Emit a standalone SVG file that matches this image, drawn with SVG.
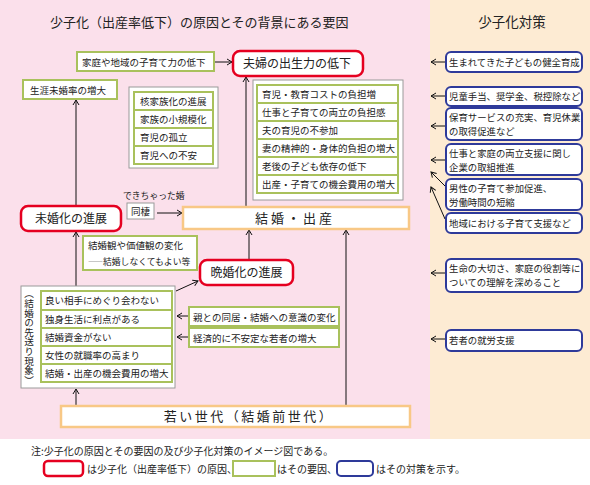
<svg xmlns="http://www.w3.org/2000/svg" width="590" height="485" viewBox="0 0 590 485">
<defs>
<style>
text{font-family:"Noto Sans CJK JP","Noto Sans",sans-serif;fill:#222;}
.t{font-size:9.5px;}
.ts{font-size:9.4px;}
.n{font-size:10px;}
.v{font-size:9.6px;writing-mode:vertical-rl;text-orientation:upright;}
.big{font-size:12px;}
.grn{fill:#fff;stroke:#a9c15c;stroke-width:2;}
.gry{fill:#fff;stroke:#9a9a9a;stroke-width:1;}
.red{fill:#fff;stroke:#e50020;stroke-width:2.5;}
.org{fill:#fff;stroke:#f8c886;stroke-width:2.5;}
.blu{fill:#fff;stroke:#2e3a9a;stroke-width:2;}
.ln{stroke:#111;stroke-width:1;fill:none;}
</style>
<marker id="ah" markerWidth="7" markerHeight="8" refX="6" refY="4" orient="auto" markerUnits="userSpaceOnUse">
<path d="M1,1 L6,4 L1,7" fill="none" stroke="#111" stroke-width="1"/>
</marker>
</defs>
<rect x="0" y="0" width="430" height="439" fill="#fbe0eb"/>
<rect x="430" y="0" width="160" height="439" fill="#fdebd3"/>
<rect x="0" y="439" width="590" height="46" fill="#fff"/>

<text x="50" y="27" font-size="13">少子化（出産率低下）の原因とその背景にある要因</text>
<text x="512" y="27" font-size="13.5" text-anchor="middle">少子化対策</text>

<g id="connectors">
<line class="ln" x1="214" y1="62" x2="232" y2="62" marker-end="url(#ah)"/>
<line class="ln" x1="246" y1="207" x2="246" y2="77" marker-end="url(#ah)"/>
<line class="ln" x1="76" y1="206" x2="76" y2="100" marker-end="url(#ah)"/>
<line class="ln" x1="157" y1="213" x2="182" y2="213" marker-end="url(#ah)"/>
<line class="ln" x1="249" y1="260" x2="249" y2="230" marker-end="url(#ah)"/>
<line class="ln" x1="346" y1="405" x2="346" y2="230" marker-end="url(#ah)"/>
<line class="ln" x1="76" y1="286" x2="76" y2="232" marker-end="url(#ah)"/>
<line class="ln" x1="76" y1="405" x2="76" y2="389" marker-end="url(#ah)"/>
<line class="ln" x1="176" y1="291" x2="198" y2="281" marker-end="url(#ah)"/>
<line class="ln" x1="189" y1="316" x2="177" y2="316" marker-end="url(#ah)"/>
<line class="ln" x1="189" y1="337" x2="177" y2="337" marker-end="url(#ah)"/>
<line class="ln" x1="446" y1="62" x2="431" y2="62" marker-end="url(#ah)"/>
<line class="ln" x1="446" y1="96" x2="431" y2="96" marker-end="url(#ah)"/>
<line class="ln" x1="446" y1="126" x2="431" y2="126" marker-end="url(#ah)"/>
<line class="ln" x1="446" y1="160" x2="431" y2="160" marker-end="url(#ah)"/>
<line class="ln" x1="445" y1="186" x2="431" y2="172" marker-end="url(#ah)"/>
<line class="ln" x1="445" y1="219" x2="431" y2="187" marker-end="url(#ah)"/>
<line class="ln" x1="446" y1="273" x2="431" y2="273" marker-end="url(#ah)"/>
<line class="ln" x1="446" y1="339" x2="431" y2="339" marker-end="url(#ah)"/>
</g>

<g id="n-katei">
<rect class="grn" x="77" y="52" width="137" height="19"/>
<text class="t" x="82" y="66">家庭や地域の子育て力の低下</text>
</g>
<g id="n-fufu">
<rect class="red" x="233" y="51" width="130" height="25" rx="7"/>
<text class="big" x="243" y="68">夫婦の出生力の低下</text>
</g>
<g id="n-shogai">
<rect class="grn" x="23" y="80" width="94" height="19"/>
<text class="t" x="30" y="94">生涯未婚率の増大</text>
</g>
<g id="n-kakukazoku">
<rect class="gry" x="129" y="87" width="89" height="81"/>
<rect class="grn" x="134" y="92" width="79" height="18"/>
<rect class="grn" x="134" y="110" width="79" height="18"/>
<rect class="grn" x="134" y="128" width="79" height="18"/>
<rect class="grn" x="134" y="146" width="79" height="18"/>
<text class="t" x="140" y="105">核家族化の進展</text>
<text class="t" x="140" y="123">家族の小規模化</text>
<text class="t" x="140" y="141">育児の孤立</text>
<text class="t" x="140" y="159">育児への不安</text>
</g>
<g id="n-futan">
<rect class="gry" x="253" y="80" width="150" height="120"/>
<rect class="grn" x="257" y="85" width="141" height="18"/>
<rect class="grn" x="257" y="103" width="141" height="18"/>
<rect class="grn" x="257" y="121" width="141" height="18"/>
<rect class="grn" x="257" y="139" width="141" height="18"/>
<rect class="grn" x="257" y="157" width="141" height="18"/>
<rect class="grn" x="257" y="175" width="141" height="18"/>
<text class="t" x="262" y="98">育児・教育コストの負担増</text>
<text class="t" x="262" y="116">仕事と子育ての両立の負担感</text>
<text class="t" x="262" y="134">夫の育児の不参加</text>
<text class="t" x="262" y="152">妻の精神的・身体的負担の増大</text>
<text class="t" x="262" y="170">老後の子ども依存の低下</text>
<text class="t" x="262" y="188">出産・子育ての機会費用の増大</text>
</g>
<g id="n-mikon">
<rect class="red" x="21" y="206" width="100" height="25" rx="7"/>
<text class="big" x="71" y="223" text-anchor="middle">未婚化の進展</text>
</g>
<g id="n-dekichatta">
<text x="123" y="199" font-size="8.8">できちゃった婚</text>
<rect class="gry" x="127" y="203" width="27" height="16"/>
<text class="t" x="131" y="215">同棲</text>
</g>
<g id="n-kekkon">
<rect class="org" x="183" y="207" width="226" height="22"/>
<text x="295" y="223" font-size="13" letter-spacing="3" text-anchor="middle">結婚・出産</text>
</g>
<g id="n-kachikan">
<rect class="grn" x="83" y="236" width="114" height="34"/>
<text class="t" x="88" y="249">結婚観や価値観の変化</text>
<text x="88" y="265" font-size="8.8"><tspan font-size="7.5">――</tspan>結婚しなくてもよい等</text>
</g>
<g id="n-bankon">
<rect class="red" x="200" y="260" width="93" height="25" rx="7"/>
<text class="big" x="246.5" y="277" text-anchor="middle">晩婚化の進展</text>
</g>
<g id="n-sakiokuri">
<rect class="gry" x="21" y="286" width="154" height="102"/>
<text class="v" x="29" y="289">（結婚の先送り現象）</text>
<rect class="grn" x="41" y="291" width="131" height="19"/>
<rect class="grn" x="41" y="310" width="131" height="18"/>
<rect class="grn" x="41" y="328" width="131" height="18"/>
<rect class="grn" x="41" y="346" width="131" height="18"/>
<rect class="grn" x="41" y="364" width="131" height="18"/>
<text class="t" x="45" y="304">良い相手にめぐり会わない</text>
<text class="t" x="45" y="323">独身生活に利点がある</text>
<text class="t" x="45" y="341">結婚資金がない</text>
<text class="t" x="45" y="359">女性の就職率の高まり</text>
<text class="t" x="45" y="377">結婚・出産の機会費用の増大</text>
</g>
<g id="n-oya">
<rect class="grn" x="189" y="307" width="150" height="19"/>
<text class="t" x="193" y="321">親との同居・結婚への意識の変化</text>
</g>
<g id="n-keizai">
<rect class="grn" x="189" y="328" width="150" height="19"/>
<text class="t" x="193" y="342">経済的に不安定な若者の増大</text>
</g>
<g id="n-wakai">
<rect class="org" x="61" y="406" width="349" height="21"/>
<text x="249" y="421" font-size="13" letter-spacing="2.5" text-anchor="middle">若い世代（結婚前世代）</text>
</g>

<g id="m1"><rect class="blu" x="446" y="52" width="136" height="20" rx="5"/><text class="ts" x="449" y="66">生まれてきた子どもの健全育成</text></g>
<g id="m2"><rect class="blu" x="446" y="87" width="136" height="19" rx="5"/><text class="ts" x="449" y="100">児童手当、奨学金、税控除など</text></g>
<g id="m3"><rect class="blu" x="446" y="108" width="136" height="32" rx="5"/><text class="ts" x="449" y="121">保育サービスの充実、育児休業</text><text class="ts" x="449" y="135">の取得促進など</text></g>
<g id="m4"><rect class="blu" x="446" y="144" width="136" height="31" rx="5"/><text class="ts" x="449" y="157">仕事と家庭の両立支援に関し</text><text class="ts" x="449" y="171">企業の取組推進</text></g>
<g id="m5"><rect class="blu" x="446" y="179" width="136" height="31" rx="5"/><text class="ts" x="449" y="192">男性の子育て参加促進、</text><text class="ts" x="449" y="206">労働時間の短縮</text></g>
<g id="m6"><rect class="blu" x="446" y="213" width="136" height="20" rx="5"/><text class="ts" x="449" y="227">地域における子育て支援など</text></g>
<g id="m7"><rect class="blu" x="446" y="259" width="136" height="33" rx="5"/><text class="ts" x="449" y="272">生命の大切さ、家庭の役割等に</text><text class="ts" x="449" y="286">ついての理解を深めること</text></g>
<g id="m8"><rect class="blu" x="446" y="330" width="136" height="21" rx="5"/><text class="ts" x="449" y="344">若者の就労支援</text></g>

<g id="note">
<text class="n" x="31" y="455">注:少子化の原因とその要因の及び少子化対策のイメージ図である。</text>
<rect class="red" x="44" y="461" width="39" height="15" rx="4" stroke-width="2"/>
<text class="n" x="87" y="473">は少子化（出産率低下）の原因、</text>
<rect class="grn" x="233" y="461" width="42" height="15"/>
<text class="n" x="277" y="473">はその要因、</text>
<rect class="blu" x="337" y="461" width="36" height="15" rx="4"/>
<text class="n" x="376" y="473">はその対策を示す。</text>
</g>
</svg>
